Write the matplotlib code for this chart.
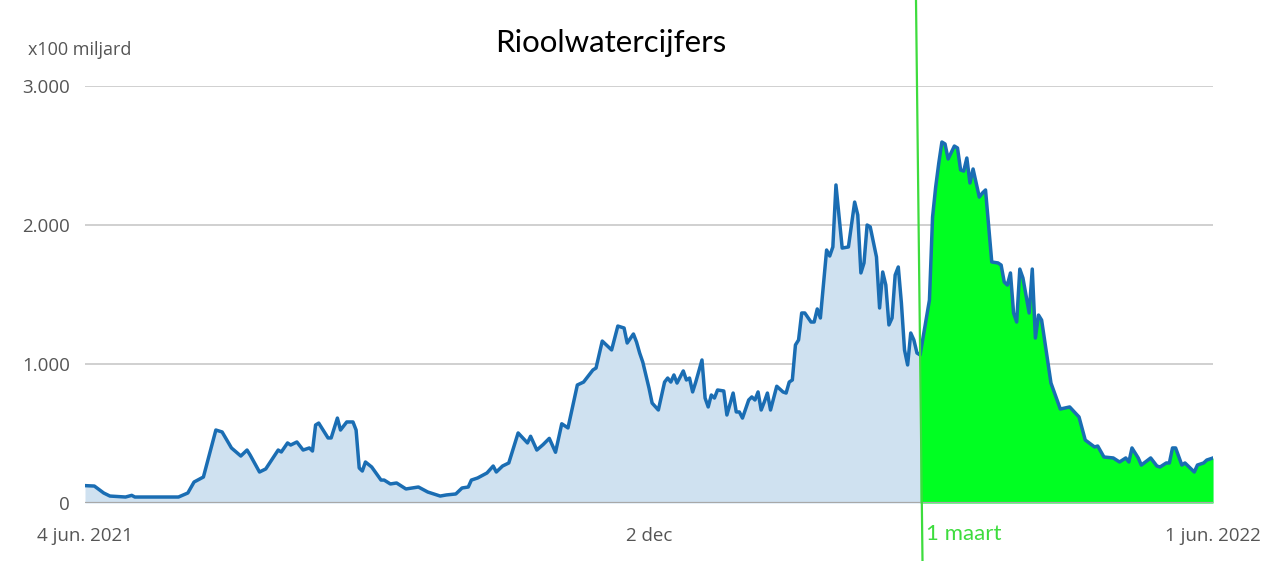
import numpy as np
import pandas as pd
import matplotlib
matplotlib.use("Agg")
import matplotlib.pyplot as plt
from matplotlib.lines import Line2D

# dagen sinds 4 jun. 2021 en waarde (x100 miljard)
days = [0, 3, 6, 8, 13, 15, 16, 30, 33, 35, 38, 42, 44, 47, 50, 52, 53, 56, 58,
        62, 63, 65, 66, 68, 70, 72, 73, 74, 75, 78, 79, 81, 82, 84, 86, 87, 88,
        89, 90, 92, 95, 96, 98, 100, 103, 107, 110, 114, 116, 119, 121, 123, 124,
        126, 129, 131, 132, 134, 136, 137, 139, 142, 143, 145, 147, 149, 151, 153,
        155, 158, 160, 163, 164, 166, 169, 171, 173, 174, 176, 177, 178, 179, 181,
        182, 184, 186, 187, 188, 189, 190, 192, 193, 194, 195, 196, 198, 199, 200,
        201, 202, 203, 205, 206, 208, 209, 210, 211, 213, 214, 215, 216, 217, 218,
        219, 220, 222, 224, 225, 226, 227, 228, 229, 230, 231, 233, 234, 235, 236,
        238, 239, 240, 241, 243, 245, 247, 248, 249, 250, 251, 252, 254, 255, 256,
        257, 258, 259, 260, 261, 262, 263, 264, 265, 266, 267, 268,
        271, 272, 273, 274, 275, 276, 277, 279, 280, 281, 282, 283, 284, 285, 287,
        288, 289, 291, 293, 294, 295, 296, 297, 298, 299, 300, 301, 303, 304, 305,
        306, 307, 310, 313, 316, 319, 321, 324, 325, 327, 330, 332, 334, 335, 336,
        338, 339, 342, 344, 345, 347, 348, 349, 350, 352, 353, 356, 357, 359, 360,
        362]
values = [125, 122, 72, 50, 43, 55, 43, 43, 72, 151, 187, 525, 511, 396, 338, 381,
          345, 223, 245, 381, 367, 432, 417, 439, 381, 396, 374, 561, 575, 468, 468,
          611, 525, 583, 583, 525, 252, 230, 295, 259, 165, 165, 137, 144, 101, 115,
          79, 50, 58, 65, 108, 115, 165, 180, 216, 266, 223, 266, 288, 360, 504, 432,
          480, 381, 420, 465, 365, 570, 540, 849, 870, 957, 971, 1165, 1101, 1273,
          1259, 1151, 1216, 1158, 1079, 1014, 827, 719, 669, 870, 899, 870, 921, 863,
          950, 885, 899, 799, 870, 1029, 755, 691, 777, 755, 813, 806, 633, 791, 655,
          655, 611, 741, 763, 741, 799, 669, 727, 791, 669, 840, 799, 791, 870, 885,
          1137, 1173, 1367, 1367, 1302, 1302, 1396, 1331, 1820, 1777, 1842, 2288,
          1834, 1842, 2165, 2072, 1655, 1727, 2000, 1986, 1770, 1403, 1662, 1568,
          1281, 1331, 1640, 1698, 1439, 1101, 993, 1223, 1173, 1079, 1065,
          1460, 2057, 2273, 2446, 2597, 2583, 2475, 2568, 2554, 2396, 2388, 2482,
          2302, 2403, 2201, 2230, 2252, 1734, 1727, 1712, 1590, 1568, 1655, 1367,
          1302, 1683, 1619, 1367, 1683, 1187, 1352, 1316, 863, 676, 691, 619, 453,
          403, 410, 331, 324, 295, 324, 295, 396, 324, 273, 324, 266, 259, 288, 288,
          396, 396, 273, 288, 223, 273, 288, 309, 324]

tick_dates = ["2021-06-04", "2021-12-02", "2022-06-01"]
tick_labels = ["4 jun. 2021", "2 dec", "1 jun. 2022"]
y_ticks = [0, 1000, 2000, 3000]
y_labels = ["0", "1.000", "2.000", "3.000"]
green_start = 268
marker_date = "2022-03-01"

start = pd.Timestamp("2021-06-04")
dates = start + pd.to_timedelta(days, unit="D")
vals = np.array(values, dtype=float)
is_green = np.array(days) >= green_start

fig = plt.figure(figsize=(12.61, 5.61), dpi=100)
ax = fig.add_axes([85 / 1261, 58 / 561, 1128 / 1261, 417 / 561])

ax.fill_between(dates, vals, color="#cfe1f0", linewidth=0)
ax.fill_between(dates, vals, where=is_green, color="#00ff22", linewidth=0)
ax.plot(dates, vals, color="#1a6db3", linewidth=2.5, solid_joinstyle="round", zorder=3)

for y in y_ticks[1:]:
    ax.axhline(y, color="#c8c8c8", linewidth=1.2, zorder=0)
ax.axhline(0, color="#a8a8a8", linewidth=1.6, zorder=4)

ax.set_xlim(start, pd.Timestamp("2022-06-01"))
ax.set_ylim(0, 3000)
ax.set_yticks(y_ticks)
ax.set_yticklabels(y_labels)
ax.set_xticks(pd.to_datetime(tick_dates))
ax.set_xticklabels(tick_labels)
ax.tick_params(length=0, labelsize=13.5, labelcolor="#555555", labelfontfamily="Open Sans")
ax.tick_params(axis="y", pad=11)
ax.tick_params(axis="x", pad=17)
for s in ax.spines.values():
    s.set_visible(False)
ax.set_facecolor("none")

ax.text(pd.Timestamp(marker_date), -0.05, "1 maart", transform=ax.get_xaxis_transform(),
        ha="left", va="top", color="#3ddc3d", fontsize=16, family="Lato")

fig.text(28 / 1261, 1 - 50 / 561, "x100 miljard", ha="left", va="center",
         color="#555555", fontsize=13, family="Open Sans")
fig.text(611 / 1261, 1 - 43 / 561, "Rioolwatercijfers", ha="center", va="center",
         color="black", fontsize=22.5, family="Lato")

fig.add_artist(Line2D([916 / 1261, 922.5 / 1261], [1, 0], transform=fig.transFigure,
                      color="#3ddc3d", linewidth=1.6, zorder=10))

fig.savefig("out.png", dpi=100)
